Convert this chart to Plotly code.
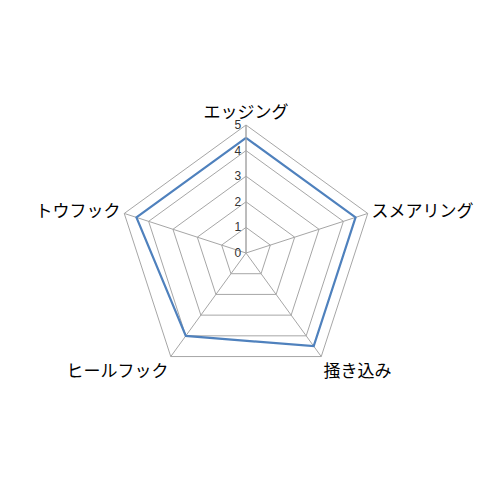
import plotly.graph_objects as go

categories = ["エッジング", "スメアリング", "掻き込み", "ヒールフック", "トウフック"]
values = [4.5, 4.5, 4.5, 4, 4.5]
radial_ticks = [0, 1, 2, 3, 4, 5]

grid_color = "#a6a6a6"

fig = go.Figure()
fig.add_trace(go.Scatterpolar(
    r=values + values[:1],
    theta=categories + categories[:1],
    mode="lines",
    line=dict(color="#4f81bd", width=2.2),
    showlegend=False,
))

fig.update_layout(
    width=500,
    height=500,
    margin=dict(l=0, r=0, t=0, b=0),
    paper_bgcolor="white",
    plot_bgcolor="white",
    font=dict(family="Noto Sans CJK JP", color="black"),
    polar=dict(
        domain=dict(x=[0.22, 0.732], y=[0.254, 0.766]),
        bgcolor="white",
        gridshape="linear",
        radialaxis=dict(
            range=[0, 5],
            tickvals=radial_ticks,
            angle=90,
            side="counterclockwise",
            tickangle=90,
            showline=True,
            linecolor=grid_color,
            linewidth=1,
            gridcolor=grid_color,
            gridwidth=1,
            ticks="",
            tickfont=dict(size=12, color="#333333", family="Liberation Sans"),
        ),
        angularaxis=dict(
            direction="clockwise",
            rotation=90,
            showline=True,
            linecolor=grid_color,
            linewidth=1,
            gridcolor=grid_color,
            gridwidth=1,
            ticks="",
            tickfont=dict(size=17, color="black"),
        ),
    ),
)

fig.write_html("out.html")
